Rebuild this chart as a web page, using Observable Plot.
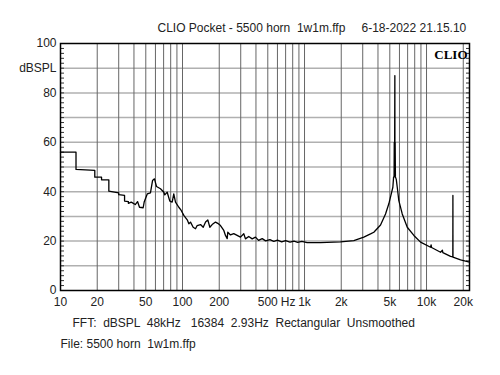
<!DOCTYPE html>
<html>
<head>
<meta charset="utf-8">
<script src="https://cdn.jsdelivr.net/npm/d3@7"></script>
<script src="https://cdn.jsdelivr.net/npm/@observablehq/plot@0.6"></script>
<style>
  html, body { margin: 0; padding: 0; background: #fff; }
  svg text { white-space: pre; }
</style>
</head>
<body>
<div id="chart"></div>
<script>
// ---- data ----
const freqs = [10, 13.4, 13.4, 19.1, 19.1, 21.7, 21.7, 24.9, 24.9, 30, 30, 33.5, 33.5, 36, 36, 38, 41, 42.8, 44.4, 47.6, 48.5,
  51.4, 54.6, 56.8, 58.9, 61.2, 66, 70.3, 71.6, 74.9, 78.7, 82.3, 84.8, 87.6, 93.3, 97.6, 102.5, 109.3, 112.7, 116.3,
  122.3, 127.8, 131.9, 140.5, 147.8, 154.5, 161.2, 167.5, 175, 186.4, 194.5, 204.8, 218, 225, 232.4, 235, 247.3, 263,
  280.5, 298.6, 317.8, 328, 349, 372.4, 396.4, 420, 450, 480, 520, 560, 600, 650, 700, 760, 820, 880, 950, 1051, 1352,
  1972, 2535, 3062, 3475, 3699, 4198, 4613, 4909, 5140, 5297, 5370, 5420, 5440, 5460, 5480, 5500, 5510, 5530, 5560,
  5650, 5754, 5929, 6324, 6950, 7874, 8935, 10790, 10900, 11000, 13030, 13500, 13600, 15740, 16430, 16450, 16470,
  19010, 22500];
const levels = [56, 56, 49, 48.6, 45.9, 45.9, 44.8, 44.8, 40.2, 39.5, 38.8, 38.5, 36.2, 36, 35.3, 35.8, 34.8, 36, 33.7, 33.5, 35.8,
  39.1, 39.5, 44.5, 45.2, 42.1, 41.2, 39.8, 38.7, 39.8, 36.2, 35.8, 39.1, 35.8, 33.7, 32.4, 30.4, 28.6, 27, 27.7,
  25.6, 25, 26.3, 26.7, 25.6, 27.7, 28.6, 25.6, 26.7, 27.7, 27.2, 26.3, 24.3, 22.3, 21, 23.6, 22.5, 23,
  22.3, 21.6, 23, 20.9, 21.9, 20.9, 21.6, 20.3, 21, 20.1, 20.6, 19.9, 20.4, 19.7, 20.2, 19.6, 20, 19.5, 19.9, 19.4, 19.4,
  19.7, 20.2, 21.6, 22.9, 23.6, 26.5, 31, 35.1, 39.1, 41.8, 45.9, 46, 60, 46, 61, 87, 48, 60, 46,
  45, 41.8, 36.4, 31, 25.6, 22.3, 19.6, 17.5, 18.5, 17.4, 15.5, 16.3, 15.3, 13.8, 13.6, 38.5, 13.5,
  12.4, 11.5];

const xTicks = [10, 20, 50, 100, 200, 500, 1000, 2000, 5000, 10000, 20000];
const xTickLabels = ["10", "20", "50", "100", "200", "500", "1k", "2k", "5k", "10k", "20k"];
const xUnit = [{at: 500, label: "Hz"}];
const yTicks = [0, 20, 40, 60, 80, 100];
const yUnit = [{at: 90, label: "dBSPL"}];
const titleLeft = "CLIO Pocket - 5500 horn  1w1m.ffp";
const titleRight = "6-18-2022 21.15.10";
const footerLine1 = "FFT:  dBSPL  48kHz   16384  2.93Hz  Rectangular  Unsmoothed";
const footerLine2 = "File: 5500 horn  1w1m.ffp";
const brand = "CLIO";

// ---- derived ----
const data = freqs.map((f, i) => ({f, db: levels[i]}));
const gridXVals = [];
for (const dec of [10, 100, 1000, 10000]) for (let m = 1; m <= 9; m++) {
  const v = m * dec; if (v > 10 && v <= 20000) gridXVals.push(v);
}
const xLabelData = xTicks.map((t, i) => ({t, label: xTickLabels[i]}));

const font = "Liberation Sans, Arial, sans-serif";

const chart = Plot.plot({
  width: 500,
  height: 375,
  marginLeft: 60,
  marginRight: 31,
  marginTop: 43,
  marginBottom: 85,
  x: {type: "log", domain: [10, 22500], axis: null},
  y: {domain: [0, 100], axis: null},
  style: {fontFamily: font, fontSize: "12px", color: "#222", background: "#fff", overflow: "visible"},
  marks: [
    Plot.gridY(d3.range(10, 100, 10), {stroke: "#b0b0b0", strokeOpacity: 1, strokeWidth: 1.5}),
    Plot.ruleX(gridXVals, {stroke: "#666", strokeWidth: 1}),
    Plot.axisY({anchor: "left", ticks: d3.range(0, 101, 2), tickSize: -4, tickFormat: () => "", label: null, stroke: "#333"}),
    Plot.axisY({anchor: "right", ticks: d3.range(0, 101, 2), tickSize: -4, tickFormat: () => "", label: null, stroke: "#333"}),
    Plot.line(data, {x: "f", y: "db", stroke: "#000", strokeWidth: 1.3}),
    Plot.frame({stroke: "#000", strokeWidth: 1.5}),
    Plot.text(xLabelData, {x: "t", text: "label", frameAnchor: "bottom", dy: 15, fill: "#222"}),
    Plot.text(xUnit, {x: "at", text: "label", frameAnchor: "bottom", dy: 15, dx: 13, textAnchor: "start", fill: "#222"}),
    Plot.text(yTicks, {y: d => d, text: d => String(d), frameAnchor: "left", dx: -4, textAnchor: "end", fill: "#222"}),
    Plot.text(yUnit, {y: "at", text: "label", frameAnchor: "left", dx: -4, textAnchor: "end", fill: "#222"}),
    Plot.text([titleLeft], {text: d => d, frameAnchor: "top-left", dx: 97, dy: -20, textAnchor: "start", fill: "#222"}),
    Plot.text([titleRight], {text: d => d, frameAnchor: "top-left", dx: 301, dy: -20, textAnchor: "start", fill: "#222"}),
    Plot.text([brand], {text: d => d, frameAnchor: "top-right", dx: -2, dy: 6, textAnchor: "end", fontWeight: "bold", fontFamily: "Liberation Serif, serif", fontSize: 13, fill: "#000"}),
    Plot.text([footerLine1], {text: d => d, frameAnchor: "bottom-left", dx: 12, dy: 36, textAnchor: "start", fill: "#222"}),
    Plot.text([footerLine2], {text: d => d, frameAnchor: "bottom-left", dx: 0, dy: 57, textAnchor: "start", fill: "#222"})
  ]
});
document.getElementById("chart").appendChild(chart);
</script>
</body>
</html>
